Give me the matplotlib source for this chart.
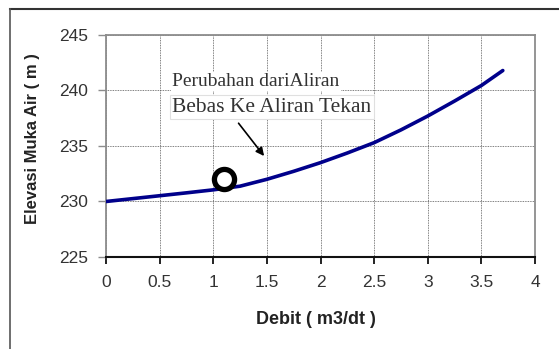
import matplotlib
matplotlib.use('Agg')
import matplotlib.pyplot as plt
from matplotlib.lines import Line2D

# rating curve: water level vs discharge
debit = [0.0, 0.25, 0.5, 0.75, 1.0, 1.25, 1.5, 1.75, 2.0, 2.25, 2.5, 2.75, 3.0, 3.25, 3.5, 3.7]
elevasi = [230.0, 230.26, 230.52, 230.78, 231.05, 231.38, 232.0, 232.72, 233.5, 234.37,
           235.3, 236.45, 237.7, 239.05, 240.45, 241.8]

# transition point (free surface -> pressurised flow)
titik_x = [1.1]
titik_y = [232.0]

x_ticks = [0, 0.5, 1, 1.5, 2, 2.5, 3, 3.5, 4]
x_labels = ['0', '0.5', '1', '1.5', '2', '2.5', '3', '3.5', '4']
y_ticks = [225, 230, 235, 240, 245]

W, H = 559, 349
fig = plt.figure(figsize=(W / 100, H / 100), dpi=100)
ax = fig.add_axes([106 / W, 1 - 257 / H, 429 / W, 222 / H])

ax.plot(debit, elevasi, color='#00008b', lw=2.6, solid_capstyle='round', zorder=3)
ax.plot(titik_x, titik_y, 'o', ms=14.5, mfc='white', mec='black', mew=3.8, zorder=4)

ax.set_xlim(0, 4)
ax.set_ylim(225, 245)
ax.set_xticks(x_ticks)
ax.set_xticklabels(x_labels)
ax.set_yticks(y_ticks)
ax.grid(True, ls=(0, (1, 1)), color='#555555', lw=0.6)
ax.set_axisbelow(True)

for side in ['top', 'right', 'left']:
    ax.spines[side].set_color('#8c8c8c')
    ax.spines[side].set_linewidth(1.3)
ax.spines['bottom'].set_color('#111111')
ax.spines['bottom'].set_linewidth(1.5)

ax.tick_params(axis='x', direction='out', length=5, width=1.3, color='#111111',
               pad=8, labelsize=12.5, labelcolor='#333333')
ax.tick_params(axis='y', direction='out', length=6, width=1.0, color='#8c8c8c',
               pad=7, labelsize=12.5, labelcolor='#333333')
for lbl in ax.get_xticklabels() + ax.get_yticklabels():
    lbl.set_fontfamily('Liberation Sans')

ax.set_xlabel('Debit ( m3/dt )', fontsize=13, fontweight='bold', family='Liberation Sans',
              color='#222222')
ax.set_ylabel('Elevasi Muka Air ( m )', fontsize=12, fontweight='bold', family='Liberation Sans',
              color='#222222')
ax.xaxis.set_label_coords(0.49, (257 - 311) / 222)
ax.yaxis.set_label_coords((40 - 106) / 429, 0.534)

# annotation text
ax.text(0.62, 240.8, 'Perubahan dariAliran', family='Liberation Serif', fontsize=14,
        color='#333333', va='center', ha='left',
        bbox=dict(fc='white', ec='none', pad=1), zorder=5)
ax.text(0.62, 238.5, 'Bebas Ke Aliran Tekan', family='Liberation Serif', fontsize=15.5,
        color='#333333', va='center', ha='left',
        bbox=dict(fc='white', ec='#e0e0e0', lw=0.8, boxstyle='square,pad=0.1'), zorder=5)
ax.annotate('', xy=(1.49, 233.9), xytext=(1.22, 237.25),
            arrowprops=dict(arrowstyle='-|>', color='black', lw=1.2, mutation_scale=12),
            zorder=6)

# outer frame
fig.add_artist(Line2D([10 / W, 1], [1 - 9 / H, 1 - 9 / H], transform=fig.transFigure,
                      color='#333333', lw=1.5))
fig.add_artist(Line2D([10 / W, 10 / W], [0, 1 - 9 / H], transform=fig.transFigure,
                      color='#555555', lw=1.2))

fig.savefig('out.png', dpi=100)
